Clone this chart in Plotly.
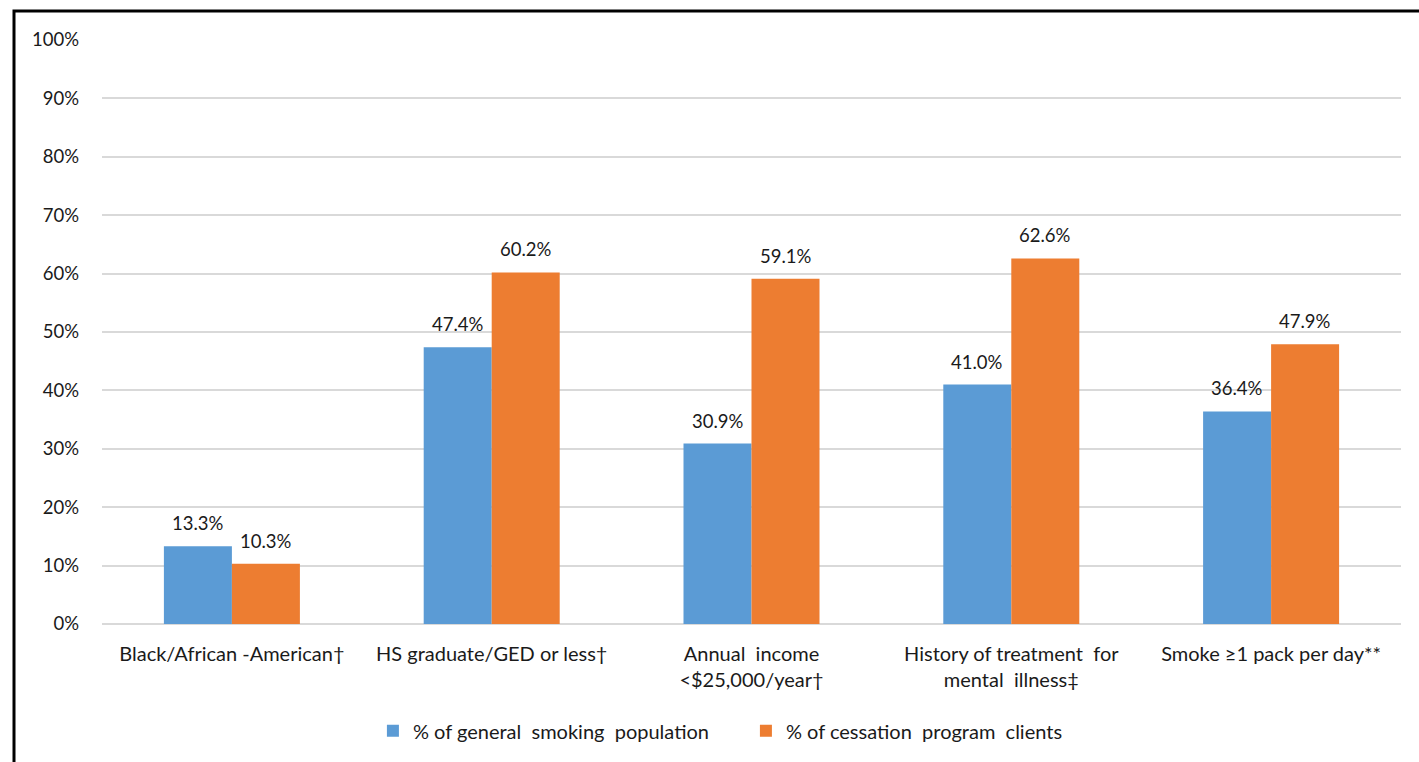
import plotly.graph_objects as go

# Categories and values (percent)
categories = [
    "Black/African -American\u2020",
    "HS graduate/GED or less\u2020",
    "Annual\u00a0 income<br><$25,000/year\u2020",
    "History of treatment\u00a0 for<br>mental\u00a0 illness\u2021",
    "Smoke \u22651 pack per day**",
]
general_pop = [13.3, 47.4, 30.9, 41.0, 36.4]
program_clients = [10.3, 60.2, 59.1, 62.6, 47.9]

series_names = ["% of general\u00a0 smoking\u00a0 population", "% of cessation\u00a0 program\u00a0 clients"]
series_colors = ["#5B9BD5", "#ED7D31"]

tick_vals = [0, 10, 20, 30, 40, 50, 60, 70, 80, 90, 100]
tick_text = ["0%", "10%", "20%", "30%", "40%", "50%", "60%", "70%", "80%", "90%", "100%"]

FONT = "Lato"
TEXT_COLOR = "#1a1a1a"

fig = go.Figure()
for name, vals, color in zip(series_names, [general_pop, program_clients], series_colors):
    fig.add_trace(go.Bar(
        x=categories, y=vals, name=name,
        marker=dict(color=color, line=dict(width=0)),
    ))

# Value labels above each bar
annotations = []
for vals, shift in [(general_pop, -34), (program_clients, 34)]:
    for cat, v in zip(categories, vals):
        annotations.append(dict(
            x=cat, y=v, xref="x", yref="y", text=f"{v:.1f}%",
            showarrow=False, xshift=shift, yshift=10, yanchor="bottom",
            font=dict(family=FONT, size=18.5, color=TEXT_COLOR),
        ))

# Outer frame (left and top edges)
L, R, T, B = 102, 1401, 40, 624
def px(x):
    return (x - L) / (R - L)
def py(y):
    return (B - y) / (B - T)

frame = dict(
    type="path", xref="paper", yref="paper",
    path=f"M {px(14)},{py(770)} L {px(14)},{py(11)} L {px(1425)},{py(11)}",
    line=dict(color="black", width=3),
)

fig.update_layout(
    width=1419, height=762,
    margin=dict(l=L, r=1419 - R, t=T, b=762 - B),
    paper_bgcolor="white", plot_bgcolor="white",
    barmode="group", bargap=0.4765, bargroupgap=0,
    font=dict(family=FONT, size=20, color=TEXT_COLOR),
    showlegend=True,
    legend=dict(
        orientation="h", x=0.4957, xanchor="center", y=-0.183, yanchor="middle",
        font=dict(family=FONT, size=20, color=TEXT_COLOR),
        itemwidth=30, traceorder="normal",
        entrywidth=328, entrywidthmode="pixels",
    ),
    annotations=annotations,
    shapes=[frame],
)
fig.update_xaxes(
    showgrid=False, showline=False, ticks="", ticklabelstandoff=16,
    tickfont=dict(family=FONT, size=20, color=TEXT_COLOR),
)
fig.update_yaxes(
    range=[0, 100], tickvals=tick_vals, ticktext=tick_text,
    showgrid=True, gridcolor="#D9D9D9", gridwidth=1.5,
    zeroline=True, zerolinecolor="#D9D9D9", zerolinewidth=1.5,
    showline=False, ticks="", ticklabelstandoff=22,
    tickfont=dict(family=FONT, size=18.5, color=TEXT_COLOR),
)

fig.write_html("out.html")
